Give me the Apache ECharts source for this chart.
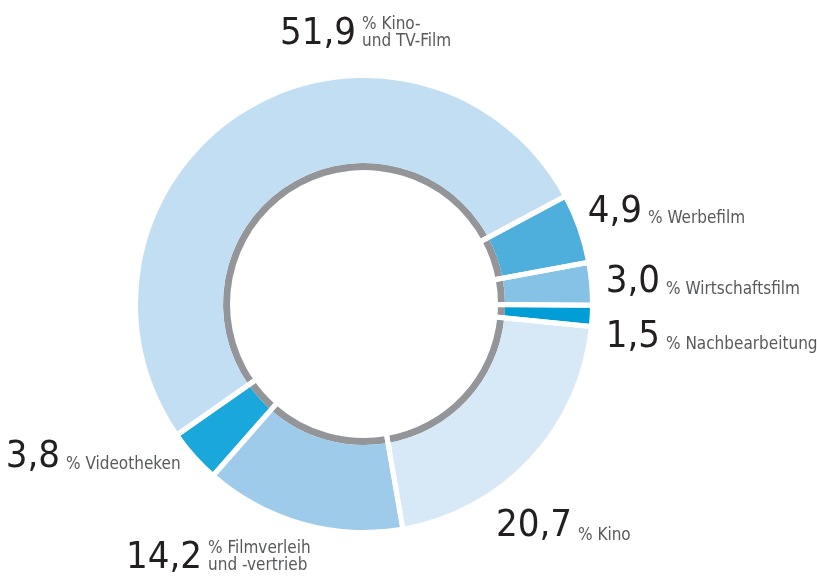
<!DOCTYPE html>
<html>
<head>
<meta charset="utf-8">
<title>Film-Branche Anteile</title>
<script src="https://cdn.jsdelivr.net/npm/echarts@6/dist/echarts.min.js"></script>
<style>
  html, body { margin: 0; padding: 0; background: #fff; }
  #chart { width: 817px; height: 578px; }
</style>
</head>
<body>
<div id="chart"></div>
<script>
// Anteile in Prozent, im Uhrzeigersinn ab "Kino- und TV-Film"
const categories = ['Kino- und TV-Film', 'Werbefilm', 'Wirtschaftsfilm', 'Nachbearbeitung', 'Kino', 'Filmverleih und -vertrieb', 'Videotheken']
const shares = [51.9, 4.9, 3.0, 1.5, 20.7, 14.2, 3.8]
const labelTexts = ['% Kino-\nund TV-Film', '% Werbefilm', '% Wirtschaftsfilm', '% Nachbearbeitung', '% Kino', '% Filmverleih\nund -vertrieb', '% Videotheken']
const colors = ['#c2def2', '#4eaedc', '#86c2e6', '#009dd6', '#d7e9f6', '#9ecbea', '#1aa7db']

// label anchors: [left of small text, vertical middle of number, vertical middle of text]
const labelPos = [[362, 34, 33], [648, 212, 219], [666, 282, 290], [666, 337, 345], [578, 526, 536], [208, 558, 557], [66, 457, 465]]

const font = '"Liberation Sans Narrow", "DejaVu Sans Condensed", "Roboto", sans-serif'
const fmt = (v) => v.toFixed(1).replace('.', ',')

const chart = echarts.init(document.getElementById('chart'), null, { renderer: 'canvas' })

const center = [364, 304]
const startAngle = 215

const option = {
  animation: false,
  series: [
    {
      // grauer Innenring
      type: 'pie',
      silent: true,
      center: center,
      radius: [134, 141],
      startAngle: startAngle,
      clockwise: true,
      label: { show: false },
      labelLine: { show: false },
      itemStyle: { color: '#939598' },
      data: shares.map((v, i) => ({ name: categories[i], value: v }))
    },
    {
      type: 'pie',
      silent: true,
      center: center,
      radius: [141, 226],
      startAngle: startAngle,
      clockwise: true,
      labelLine: { show: false },
      label: {
        show: true,
        position: 'inside',
        overflow: 'none',
        formatter: (p) => fmt(p.value),
        fontFamily: font,
        fontSize: 38,
        lineHeight: 40,
        color: '#231f20'
      },
      labelLayout: (p) => ({
        x: labelPos[p.dataIndex][0] - 6,
        y: labelPos[p.dataIndex][1],
        align: 'right',
        verticalAlign: 'middle'
      }),
      data: shares.map((v, i) => ({ name: categories[i], value: v, itemStyle: { color: colors[i] } }))
    },
    {
      // weisse Trennfugen und Beschriftung
      type: 'pie',
      silent: true,
      center: center,
      radius: [127, 233],
      startAngle: startAngle,
      clockwise: true,
      z: 5,
      labelLine: { show: false },
      itemStyle: {
        color: 'rgba(0,0,0,0)',
        borderColor: '#ffffff',
        borderWidth: 5
      },
      label: {
        show: true,
        position: 'inside',
        overflow: 'none',
        formatter: (p) => labelTexts[p.dataIndex],
        fontFamily: font,
        fontSize: 17,
        lineHeight: 17,
        color: '#58595b'
      },
      labelLayout: (p) => ({
        x: labelPos[p.dataIndex][0],
        y: labelPos[p.dataIndex][2],
        align: 'left',
        verticalAlign: 'middle'
      }),
      data: shares.map((v, i) => ({ name: categories[i], value: v }))
    }
  ]
}

chart.setOption(option)
</script>
</body>
</html>
